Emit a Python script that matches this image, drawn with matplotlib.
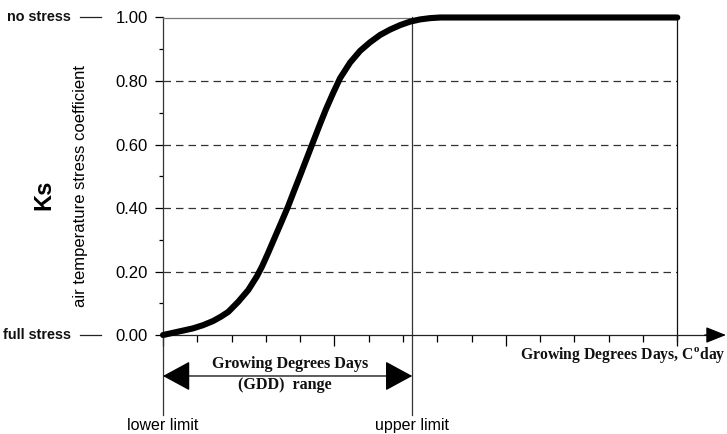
import matplotlib
matplotlib.use("Agg")
import matplotlib.pyplot as plt

plt.rcParams['font.family'] = ['Liberation Sans', 'DejaVu Sans']
plt.rcParams['mathtext.fontset'] = 'custom'
plt.rcParams['mathtext.rm'] = 'Liberation Serif:bold'

# Ks curve (x in tick units of GDD, y = Ks)
gdd = [0.000, 0.292, 0.584, 0.875, 1.167, 1.459, 1.692, 1.905, 2.197, 2.489,
       2.734, 2.889, 3.064, 3.239, 3.443, 3.648, 3.823, 3.998, 4.173, 4.377,
       4.582, 4.757, 4.961, 5.165, 5.457, 5.749, 6.040, 6.332, 6.624, 6.916,
       7.208, 7.499, 7.791, 8.083, 15.0]
ks = [0.000, 0.007, 0.014, 0.021, 0.031, 0.044, 0.058, 0.073, 0.105, 0.142,
      0.184, 0.216, 0.258, 0.302, 0.353, 0.405, 0.454, 0.502, 0.551, 0.608,
      0.665, 0.712, 0.762, 0.809, 0.858, 0.895, 0.922, 0.945, 0.962, 0.976,
      0.987, 0.994, 0.998, 1.000, 1.000]

y_ticks = [0.0, 0.2, 0.4, 0.6, 0.8, 1.0]
y_ticklabels = ["0.00", "0.20", "0.40", "0.60", "0.80", "1.00"]
y_minor = [0.1, 0.3, 0.5, 0.7, 0.9]
grid_levels = [0.2, 0.4, 0.6, 0.8]
x_major = [0, 5, 10, 15]
x_minor = [1, 2, 3, 4, 6, 7, 8, 9, 11, 12, 13, 14]

lower_limit = 0
upper_limit = 7.27
x_end = 15
range_y = -0.129
bottom = -0.252

fig = plt.figure(figsize=(7.27, 4.34), dpi=100)
ax = fig.add_axes([163 / 727, 18 / 434, 564 / 727, 398.5 / 434])
ax.set_xlim(0, 16.45)
ax.set_ylim(-0.255, 1.0)

# spines
ax.spines['right'].set_visible(False)
ax.spines['left'].set_bounds(bottom, 1.0)
ax.spines['left'].set_linewidth(0.9)
ax.spines['left'].set_color('#333333')
ax.spines['top'].set_bounds(0, x_end)
ax.spines['top'].set_linewidth(0.9)
ax.spines['top'].set_color('#777777')
ax.spines['bottom'].set_position(('data', 0))
ax.spines['bottom'].set_bounds(0, 16.0)
ax.spines['bottom'].set_linewidth(0.9)
ax.spines['bottom'].set_color('#222222')

# ticks
ax.set_yticks(y_ticks)
ax.set_yticklabels(y_ticklabels, fontsize=12)
ax.set_yticks(y_minor, minor=True)
ax.set_xticks(x_major)
ax.set_xticks(x_minor, minor=True)
ax.tick_params(axis='x', which='major', direction='out', length=8, width=0.9, labelbottom=False)
ax.tick_params(axis='x', which='minor', direction='out', length=5, width=0.9)
ax.tick_params(axis='y', which='major', direction='out', length=6, width=0.9, pad=5)
ax.tick_params(axis='y', which='minor', direction='out', length=3, width=0.9)

# dashed grid
for g in grid_levels:
    ax.plot([0, x_end], [g, g], color='#333333', lw=0.9, dashes=(6, 4))

# limit lines
ax.plot([upper_limit, upper_limit], [bottom, 1.0], color='#333333', lw=0.9, clip_on=False)
ax.plot([x_end, x_end], [-0.02, 1.0], color='#111111', lw=0.9, clip_on=False)

# curve
ax.plot(gdd, ks, color='black', lw=4.4, solid_capstyle='round', solid_joinstyle='round',
        clip_on=False, zorder=5)

# x axis arrow head
ax.annotate('', xy=(16.42, 0), xytext=(15.8, 0),
            arrowprops=dict(arrowstyle='-|>,head_length=1.25,head_width=0.5',
                            color='black', lw=0.9, shrinkA=0, shrinkB=0),
            annotation_clip=False)

# GDD range double arrow
ax.annotate('', xy=(upper_limit, range_y), xytext=(lower_limit, range_y),
            arrowprops=dict(arrowstyle='<|-|>,head_length=1.75,head_width=0.95',
                            color='black', lw=0.9, shrinkA=0, shrinkB=0),
            annotation_clip=False)

serif = ['Liberation Serif', 'DejaVu Serif']
ax.text(3.72, -0.09, "Growing Degrees Days", family=serif, weight='bold',
        fontsize=11.6, ha='center', va='center', color='#111111')
ax.text(3.55, -0.158, "(GDD)  range", family=serif, weight='bold',
        fontsize=11.6, ha='center', va='center', color='#111111')
ax.text(16.4, -0.062, r"Growing Degrees Days, C$^{\mathrm{o}}$day", family=serif,
        weight='bold', fontsize=11.3, ha='right', va='center', color='#111111')

ax.text(lower_limit, -0.285, "lower limit", fontsize=11.5, ha='center', va='center')
ax.text(upper_limit, -0.285, "upper limit", fontsize=11.5, ha='center', va='center')

# stress labels on the left
for lab, yv in [("no stress", 1.0), ("full stress", 0.0)]:
    ax.text(-0.1625, yv, lab, transform=ax.get_yaxis_transform(),
            fontsize=10.4, weight='bold', ha='right', va='center', color='#111111')
    ax.plot([-0.148, -0.11], [yv, yv], transform=ax.get_yaxis_transform(),
            color='#222222', lw=0.9, clip_on=False)

# axis titles
fig.text(44 / 727, 1 - 195 / 434, "Ks", rotation=90, fontsize=17, weight='bold',
         ha='center', va='center')
fig.text(81 / 727, 1 - 186 / 434, "air temperature stress coefficient", rotation=90,
         fontsize=12, ha='center', va='center')

fig.savefig("out.png", dpi=100)
